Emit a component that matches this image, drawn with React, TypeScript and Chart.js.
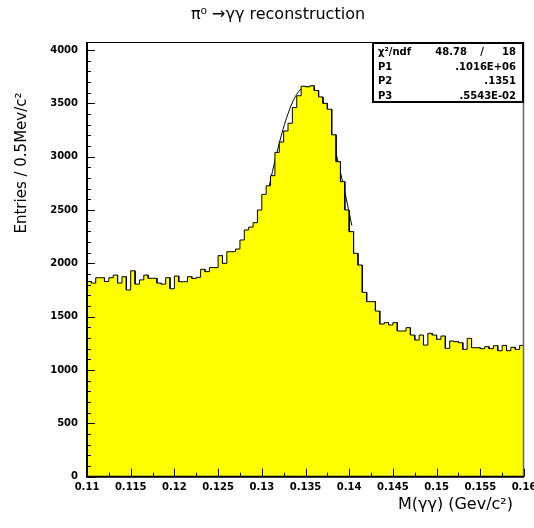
import { useEffect, useRef } from 'react';
import { Chart, registerables } from 'chart.js';

Chart.register(...registerables);

// ---- data ----
const X_MIN = 0.11;
const X_MAX = 0.16;
const BIN_WIDTH = 0.0005;
const Y_MAX = 4075;

const BIN_VALUES = [
  1830, 1815, 1865, 1865, 1830, 1865, 1890, 1815, 1875, 1750,
  1930, 1805, 1845, 1890, 1860, 1860, 1815, 1805, 1866, 1762,
  1881, 1828, 1828, 1875, 1859, 1869, 1944, 1922, 1960, 1960,
  2072, 2000, 2109, 2109, 2134, 2219, 2313, 2340, 2381, 2500,
  2647, 2727, 2822, 3040, 3138, 3241, 3313, 3460, 3571, 3660,
  3655, 3665, 3620, 3560, 3500, 3445, 3205, 2953, 2766, 2500,
  2297, 2094, 1984, 1728, 1641, 1641, 1553, 1431, 1444, 1422,
  1444, 1366, 1366, 1397, 1328, 1281, 1328, 1234, 1344, 1328,
  1288, 1319, 1203, 1272, 1266, 1256, 1194, 1297, 1209, 1209,
  1200, 1219, 1200, 1228, 1181, 1231, 1181, 1213, 1194, 1231,
];

const X_TICK_LABELS = [0.11, 0.115, 0.12, 0.125, 0.13, 0.135, 0.14, 0.145, 0.15, 0.155, 0.16];
const Y_TICK_LABELS = [0, 500, 1000, 1500, 2000, 2500, 3000, 3500, 4000];
const X_TICK_STEP = 0.005;
const X_MINOR_STEP = 0.0025;
const Y_TICK_STEP = 500;
const Y_MINOR_STEP = 100;

// fit (gaussian) parameters as shown in the stats box
const FIT_P1 = 0.1016e6;
const FIT_P2 = 0.1351;
const FIT_P3 = 0.5543e-2;
const FIT_FROM = 0.1302;
const FIT_TO = 0.1403;

const TITLE = 'π⁰ →γγ reconstruction';
const X_TITLE = 'M(γγ) (Gev/c²)';
const Y_TITLE = 'Entries / 0.5Mev/c²';
const STATS_CHI2 = '48.78';
const STATS_NDF = '18';
const STATS_LABELS = ['P1', 'P2', 'P3'];
const STATS_VALUES = ['.1016E+06', '.1351', '.5543E-02'];

function buildHistogram() {
  const pts: { x: number; y: number }[] = [];
  BIN_VALUES.forEach((v, i) => {
    pts.push({ x: X_MIN + i * BIN_WIDTH, y: v });
    pts.push({ x: X_MIN + (i + 1) * BIN_WIDTH, y: v });
  });
  return pts;
}

function buildFit() {
  const pts: { x: number; y: number }[] = [];
  const n = 80;
  const amp = (FIT_P1 * BIN_WIDTH) / (Math.sqrt(2 * Math.PI) * FIT_P3);
  for (let k = 0; k <= n; k++) {
    const x = FIT_FROM + ((FIT_TO - FIT_FROM) * k) / n;
    const z = (x - FIT_P2) / FIT_P3;
    pts.push({ x, y: amp * Math.exp(-0.5 * z * z) });
  }
  return pts;
}

const overlay = {
  id: 'overlay',
  afterDatasetsDraw(chart: any) {
    const { ctx, chartArea: a, scales } = chart;
    const xs = scales.x;
    const ys = scales.y;
    ctx.save();

    // frame top / right
    ctx.strokeStyle = '#000';
    ctx.lineWidth = 1;
    ctx.beginPath();
    ctx.moveTo(a.left, a.top + 0.5);
    ctx.lineTo(a.right, a.top + 0.5);
    ctx.stroke();
    ctx.strokeStyle = '#666';
    ctx.lineWidth = 1.5;
    ctx.beginPath();
    ctx.moveTo(a.right - 0.5, a.top);
    ctx.lineTo(a.right - 0.5, a.bottom);
    ctx.stroke();

    // axes
    ctx.strokeStyle = '#000';
    ctx.lineWidth = 2;
    ctx.beginPath();
    ctx.moveTo(a.left, a.top);
    ctx.lineTo(a.left, a.bottom);
    ctx.lineTo(a.right, a.bottom);
    ctx.stroke();

    // inside ticks
    ctx.lineWidth = 1;
    ctx.beginPath();
    for (let k = 0; k * Y_MINOR_STEP <= Y_MAX; k++) {
      const v = k * Y_MINOR_STEP;
      const py = Math.round(ys.getPixelForValue(v)) + 0.5;
      const len = v % Y_TICK_STEP === 0 ? 8 : 4;
      ctx.moveTo(a.left, py);
      ctx.lineTo(a.left + len, py);
    }
    const nx = Math.round((X_MAX - X_MIN) / X_MINOR_STEP);
    const ratio = Math.round(X_TICK_STEP / X_MINOR_STEP);
    for (let k = 0; k <= nx; k++) {
      const v = X_MIN + k * X_MINOR_STEP;
      const px = Math.round(xs.getPixelForValue(v)) + 0.5;
      const len = k % ratio === 0 ? 8 : 4;
      ctx.moveTo(px, a.bottom);
      ctx.lineTo(px, a.bottom - len);
    }
    ctx.stroke();

    // stats box
    const bx = a.right - 152;
    const by = a.top;
    const bw = 152;
    const bh = 61;
    ctx.fillStyle = '#fff';
    ctx.fillRect(bx, by, bw, bh);
    ctx.lineWidth = 2;
    ctx.strokeStyle = '#000';
    ctx.strokeRect(bx + 1, by + 1, bw - 2, bh - 2);
    ctx.fillStyle = '#000';
    ctx.font = 'bold 10px "DejaVu Sans"';
    ctx.textBaseline = 'middle';
    const rowY = (i: number) => by + 10.5 + i * 14.6;
    ctx.textAlign = 'left';
    ctx.fillText('χ²/ndf', bx + 6, rowY(0));
    ctx.textAlign = 'right';
    ctx.fillText(STATS_CHI2, bx + 95, rowY(0));
    ctx.textAlign = 'center';
    ctx.fillText('/', bx + 110, rowY(0));
    ctx.textAlign = 'right';
    ctx.fillText(STATS_NDF, bx + 144, rowY(0));
    STATS_LABELS.forEach((lab, i) => {
      ctx.textAlign = 'left';
      ctx.fillText(lab, bx + 6, rowY(i + 1));
      ctx.textAlign = 'right';
      ctx.fillText(STATS_VALUES[i], bx + 144, rowY(i + 1));
    });

    // titles
    ctx.font = '16px "DejaVu Sans"';
    ctx.textAlign = 'center';
    ctx.textBaseline = 'alphabetic';
    ctx.fillText(TITLE, 278, 19);

    ctx.textAlign = 'right';
    ctx.fillText(X_TITLE, a.right - 11, 509);

    ctx.font = '15px "DejaVu Sans"';
    ctx.translate(22, 163);
    ctx.rotate(-Math.PI / 2);
    ctx.textAlign = 'center';
    ctx.textBaseline = 'middle';
    ctx.fillText(Y_TITLE, 0, 0);

    ctx.restore();
  },
};

export default function App() {
  const ref = useRef<HTMLCanvasElement | null>(null);

  useEffect(() => {
    if (!ref.current) return;
    const tickFont = { family: '"DejaVu Sans"', size: 10, weight: 'bold' as const };
    const chart = new Chart(ref.current, {
      type: 'line',
      data: {
        datasets: [
          {
            data: buildHistogram(),
            borderColor: '#000',
            borderWidth: 1,
            backgroundColor: '#ffff00',
            fill: 'origin',
            pointRadius: 0,
            tension: 0,
          },
          {
            data: buildFit(),
            borderColor: '#000',
            borderWidth: 1,
            fill: false,
            pointRadius: 0,
            tension: 0,
          },
        ],
      },
      options: {
        responsive: false,
        animation: false,
        events: [],
        layout: { padding: { top: 42, right: 10, left: 0, bottom: 0 } },
        plugins: {
          legend: { display: false },
          title: { display: false },
          tooltip: { enabled: false },
        },
        scales: {
          x: {
            type: 'linear',
            min: X_MIN,
            max: X_MAX,
            grid: { display: false, drawTicks: false },
            border: { display: false },
            afterBuildTicks: (s: any) => {
              s.ticks = X_TICK_LABELS.map((v) => ({ value: v }));
            },
            ticks: {
              color: '#000',
              font: tickFont,
              padding: 5,
              maxRotation: 0,
              minRotation: 0,
              autoSkip: false,
              callback: (v: any) => parseFloat(Number(v).toFixed(4)).toString(),
            },
            afterFit: (s: any) => {
              s.height = 51.3;
              s.paddingLeft = 0;
              s.paddingRight = 0;
            },
          },
          y: {
            type: 'linear',
            min: 0,
            max: Y_MAX,
            grid: { display: false, drawTicks: false },
            border: { display: false },
            afterBuildTicks: (s: any) => {
              s.ticks = Y_TICK_LABELS.map((v) => ({ value: v }));
            },
            ticks: {
              color: '#000',
              font: tickFont,
              padding: 9,
              autoSkip: false,
              callback: (v: any) => String(Math.round(Number(v))),
            },
            afterFit: (s: any) => {
              s.width = 87;
              s.paddingTop = 0;
              s.paddingBottom = 0;
            },
          },
        },
      },
      plugins: [overlay],
    });
    return () => chart.destroy();
  }, []);

  return (
    <div style={{ position: 'absolute', left: 0, top: 0, width: 534, height: 528, background: '#fff' }}>
      <canvas ref={ref} width={534} height={528} style={{ display: 'block' }} />
    </div>
  );
}
